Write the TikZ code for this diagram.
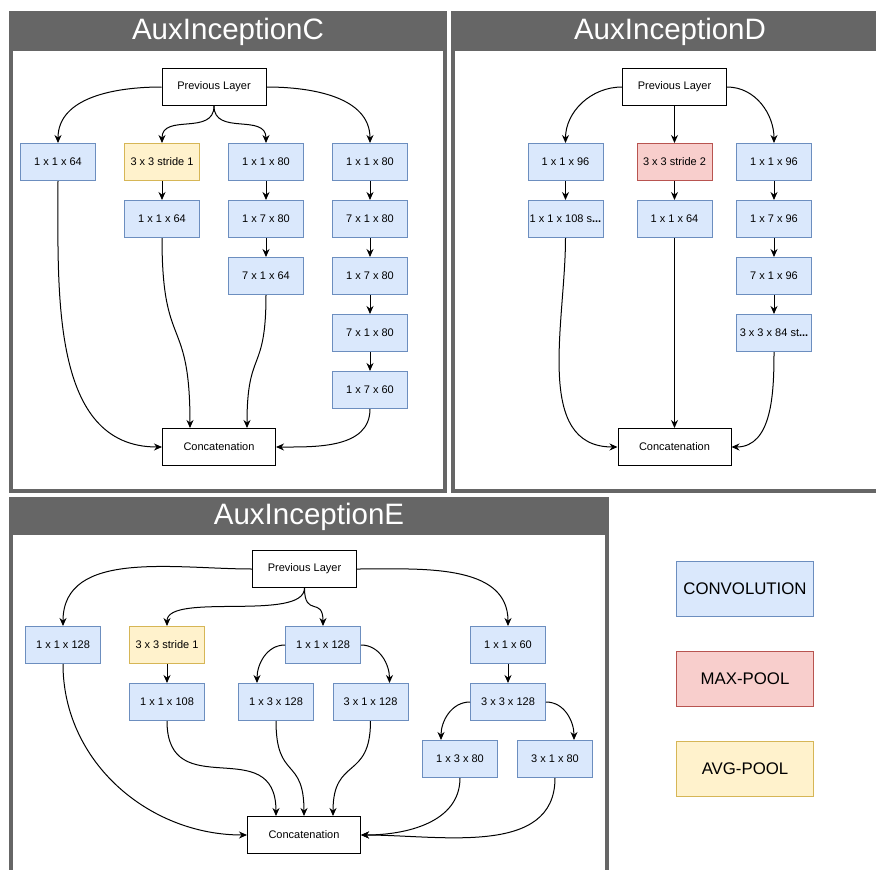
\documentclass[tikz,border=0pt]{standalone}
\usepackage{fontspec}
\setmainfont{Liberation Sans}
\usetikzlibrary{arrows.meta}

\definecolor{panelgray}{HTML}{666666}
\definecolor{convfill}{HTML}{DAE8FC}
\definecolor{convline}{HTML}{6C8EBF}
\definecolor{maxfill}{HTML}{F8CECC}
\definecolor{maxline}{HTML}{B85450}
\definecolor{avgfill}{HTML}{FFF2CC}
\definecolor{avgline}{HTML}{D6B656}

\tikzset{
  layer/.style={draw=black, line width=1pt, minimum width=75pt, minimum height=37pt,
    inner sep=1pt, font=\fontsize{11}{13}\selectfont},
  io/.style={layer, fill=white, minimum width=104pt},
  cat/.style={layer, fill=white, minimum width=113pt},
  conv/.style={layer, draw=convline, fill=convfill},
  maxpool/.style={layer, draw=maxline, fill=maxfill},
  avgpool/.style={layer, draw=avgline, fill=avgfill},
  key/.style={minimum width=137pt, minimum height=55pt, font=\fontsize{16.8}{19}\selectfont},
  panel title/.style={text=white, anchor=base, font=\fontsize{29.5}{34}\selectfont},
  flow/.style={line width=1pt, -{Stealth[length=8pt,width=7pt]}},
}

\begin{document}
\begin{tikzpicture}[x=1pt,y=-1pt]
  \fill[white] (0,0) rectangle (876,870);
  \useasboundingbox (0,0) rectangle (876,870);

  % panels
  \fill[panelgray] (9,11) rectangle (447,51);
  \draw[panelgray, line width=4pt] (11,13) rectangle (445,491);
  \node[panel title] (titleC) at (228,39) {AuxInceptionC};

  \fill[panelgray] (451,11) rectangle (889,51);
  \draw[panelgray, line width=4pt] (453,13) rectangle (887,491);
  \node[panel title] (titleD) at (670,39) {AuxInceptionD};

  \fill[panelgray] (9,497) rectangle (609,535);
  \draw[panelgray, line width=4pt] (11,499) rectangle (607,920);
  \node[panel title] (titleE) at (309,524) {AuxInceptionE};

  % AuxInceptionC
  \node[io] (cPrev) at (214,87) {Previous Layer};
  \node[conv] (cA1) at (58,162) {1 x 1 x 64};
  \node[avgpool] (cB1) at (162,162) {3 x 3 stride 1};
  \node[conv] (cB2) at (162,219) {1 x 1 x 64};
  \node[conv] (cC1) at (266,162) {1 x 1 x 80};
  \node[conv] (cC2) at (266,219) {1 x 7 x 80};
  \node[conv] (cC3) at (266,276) {7 x 1 x 64};
  \node[conv] (cD1) at (370,162) {1 x 1 x 80};
  \node[conv] (cD2) at (370,219) {7 x 1 x 80};
  \node[conv] (cD3) at (370,276) {1 x 7 x 80};
  \node[conv] (cD4) at (370,333) {7 x 1 x 80};
  \node[conv] (cD5) at (370,390) {1 x 7 x 60};
  \node[cat] (cConcat) at (219,447) {Concatenation};

  \draw[flow] (cPrev.west) to[out=180,in=90] (cA1.north);
  \draw[flow] (cPrev.south) .. controls +(0,30) and +(0,-30) .. (cB1.north);
  \draw[flow] (cPrev.south) .. controls +(0,30) and +(0,-30) .. (cC1.north);
  \draw[flow] (cPrev.east) to[out=0,in=90] (cD1.north);
  \draw[flow] (cB1) -- (cB2);
  \draw[flow] (cC1) -- (cC2);
  \draw[flow] (cC2) -- (cC3);
  \draw[flow] (cD1) -- (cD2);
  \draw[flow] (cD2) -- (cD3);
  \draw[flow] (cD3) -- (cD4);
  \draw[flow] (cD4) -- (cD5);
  \draw[flow] (cA1.south) to[out=-90,in=180] (cConcat.west);
  \draw[flow] (cB2.south) .. controls +(0,115) and +(0,-115) .. ([xshift=-29pt]cConcat.north);
  \draw[flow] (cC3.south) .. controls +(0,80) and +(0,-80) .. ([xshift=28pt]cConcat.north);
  \draw[flow] (cD5.south) to[out=-90,in=0] (cConcat.east);

  % AuxInceptionD
  \node[io] (dPrev) at (674.5,87) {Previous Layer};
  \node[conv] (dA1) at (565.5,162) {1 x 1 x 96};
  \node[conv] (dA2) at (565.5,219) {1 x 1 x 108 s\textbf{...}};
  \node[maxpool] (dB1) at (674.5,162) {3 x 3 stride 2};
  \node[conv] (dB2) at (674.5,219) {1 x 1 x 64};
  \node[conv] (dC1) at (774,162) {1 x 1 x 96};
  \node[conv] (dC2) at (774,219) {1 x 7 x 96};
  \node[conv] (dC3) at (774,276) {7 x 1 x 96};
  \node[conv] (dC4) at (774,333) {3 x 3 x 84 st\textbf{...}};
  \node[cat] (dConcat) at (674.5,447) {Concatenation};

  \draw[flow] (dPrev.west) to[out=180,in=90] (dA1.north);
  \draw[flow] (dPrev) -- (dB1);
  \draw[flow] (dPrev.east) to[out=0,in=90] (dC1.north);
  \draw[flow] (dA1) -- (dA2);
  \draw[flow] (dB1) -- (dB2);
  \draw[flow] (dC1) -- (dC2);
  \draw[flow] (dC2) -- (dC3);
  \draw[flow] (dC3) -- (dC4);
  \draw[flow] (dA2.south) to[out=-90,in=180] (dConcat.west);
  \draw[flow] (dB2) -- (dConcat);
  \draw[flow] (dC4.south) to[out=-90,in=0] (dConcat.east);

  % AuxInceptionE
  \node[io] (ePrev) at (304.5,569) {Previous Layer};
  \node[conv] (eA1) at (63,645) {1 x 1 x 128};
  \node[avgpool] (eB1) at (167,645) {3 x 3 stride 1};
  \node[conv] (eB2) at (167,702) {1 x 1 x 108};
  \node[conv] (eC1) at (323,645) {1 x 1 x 128};
  \node[conv] (eC2) at (276,702) {1 x 3 x 128};
  \node[conv] (eC3) at (370.5,702) {3 x 1 x 128};
  \node[conv] (eD1) at (508,645) {1 x 1 x 60};
  \node[conv] (eD2) at (508,702) {3 x 3 x 128};
  \node[conv] (eD3) at (460,759) {1 x 3 x 80};
  \node[conv] (eD4) at (555,759) {3 x 1 x 80};
  \node[cat] (eConcat) at (304,835) {Concatenation};

  \draw[flow] (ePrev.west) to[out=180,in=90] (eA1.north);
  \draw[flow] (ePrev.south) .. controls +(0,34) and +(0,-34) .. (eB1.north);
  \draw[flow] (ePrev.south) .. controls +(0,30) and +(0,-30) .. (eC1.north);
  \draw[flow] (ePrev.east) to[out=0,in=90] (eD1.north);
  \draw[flow] (eB1) -- (eB2);
  \draw[flow] (eC1.west) to[out=180,in=90] ([xshift=-19pt]eC2.north);
  \draw[flow] (eC1.east) to[out=0,in=90] ([xshift=19pt]eC3.north);
  \draw[flow] (eD1) -- (eD2);
  \draw[flow] (eD2.west) to[out=180,in=90] ([xshift=-19pt]eD3.north);
  \draw[flow] (eD2.east) to[out=0,in=90] ([xshift=19pt]eD4.north);
  \draw[flow] (eA1.south) to[out=-90,in=180] (eConcat.west);
  \draw[flow] (eB2.south) .. controls +(0,85) and +(0,-85) .. ([xshift=-28pt]eConcat.north);
  \draw[flow] (eC2.south) .. controls +(0,60) and +(0,-60) .. (eConcat.north);
  \draw[flow] (eC3.south) .. controls +(0,60) and +(0,-60) .. ([xshift=29pt]eConcat.north);
  \draw[flow] (eD3.south) to[out=-90,in=0] (eConcat.east);
  \draw[flow] (eD4.south) to[out=-90,in=0] (eConcat.east);

  % legend
  \node[conv, key] (keyConv) at (745,589) {CONVOLUTION};
  \node[maxpool, key] (keyMax) at (745,679) {MAX-POOL};
  \node[avgpool, key] (keyAvg) at (745,768.5) {AVG-POOL};
\end{tikzpicture}
\end{document}
